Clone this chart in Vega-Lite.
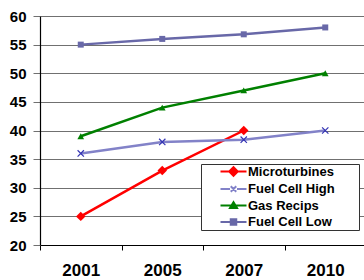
{
  "$schema": "https://vega.github.io/schema/vega-lite/v6.json",
  "autosize": {"type": "none"},
  "padding": {"left": 40, "top": 16, "right": 0, "bottom": 35},
  "width": 326,
  "height": 229,
  "background": "white",
  "config": {
    "view": {"stroke": null},
    "font": "Liberation Sans"
  },
  "data": {
    "values": [
      {"year": "2001", "series": "Microturbines", "value": 25},
      {"year": "2005", "series": "Microturbines", "value": 33},
      {"year": "2007", "series": "Microturbines", "value": 40},
      {"year": "2001", "series": "Fuel Cell High", "value": 36},
      {"year": "2005", "series": "Fuel Cell High", "value": 38},
      {"year": "2007", "series": "Fuel Cell High", "value": 38.4},
      {"year": "2010", "series": "Fuel Cell High", "value": 40},
      {"year": "2001", "series": "Gas Recips", "value": 39},
      {"year": "2005", "series": "Gas Recips", "value": 44},
      {"year": "2007", "series": "Gas Recips", "value": 47},
      {"year": "2010", "series": "Gas Recips", "value": 50},
      {"year": "2001", "series": "Fuel Cell Low", "value": 55},
      {"year": "2005", "series": "Fuel Cell Low", "value": 56},
      {"year": "2007", "series": "Fuel Cell Low", "value": 56.8},
      {"year": "2010", "series": "Fuel Cell Low", "value": 58}
    ]
  },
  "encoding": {
    "x": {
      "field": "year",
      "type": "ordinal",
      "scale": {"type": "band", "paddingInner": 0, "paddingOuter": 0},
      "axis": {
        "title": null,
        "labelAngle": 0,
        "labelFont": "Liberation Sans",
        "labelFontSize": 17,
        "labelFontWeight": "bold",
        "labelColor": "black",
        "labelPadding": 12,
        "tickBand": "extent",
        "tickSize": 5,
        "tickColor": "black",
        "domainColor": "black",
        "domainWidth": 1
      }
    },
    "y": {
      "field": "value",
      "type": "quantitative",
      "scale": {"domain": [20, 60], "nice": false, "zero": false},
      "axis": {
        "title": null,
        "values": [20, 25, 30, 35, 40, 45, 50, 55, 60],
        "labelFont": "Liberation Sans",
        "labelFontSize": 15,
        "labelFontWeight": "bold",
        "labelColor": "black",
        "labelPadding": 7,
        "tickSize": 7,
        "tickColor": "#707070",
        "domainColor": "black",
        "domainWidth": 1.2,
        "gridColor": "#707070",
        "gridWidth": 1,
        "gridOpacity": 1
      }
    }
  },
  "layer": [
    {
      "mark": {"type": "line", "strokeWidth": 2.5},
      "encoding": {
        "color": {
          "field": "series",
          "type": "nominal",
          "scale": {
            "domain": ["Microturbines", "Fuel Cell High", "Gas Recips", "Fuel Cell Low"],
            "range": ["#FF0000", "#8282C8", "#008000", "#6868A8"]
          },
          "legend": {
            "title": null,
            "orient": "none",
            "legendX": 161,
            "legendY": 148,
            "padding": 1,
            "fillColor": "white",
            "strokeColor": "#333333",
            "labelFont": "Liberation Sans",
            "labelFontSize": 13,
            "labelFontWeight": "bold",
            "labelColor": "black",
            "labelOffset": 8,
            "symbolOffset": 25,
            "rowPadding": 1.5,
            "symbolSize": 100,
            "symbolStrokeWidth": 2,
            "encode": {
              "symbols": {
                "update": {
                  "shape": {"signal": "datum.value === 'Microturbines' ? 'M-2.6,0H2.6M-0.85,0L0,-0.85L0.85,0L0,0.85ZM24,0' : datum.value === 'Fuel Cell High' ? 'M-2.6,0H-0.7M0.7,0H2.6M-0.55,-0.55L0.55,0.55M-0.55,0.55L0.55,-0.55M24,0' : datum.value === 'Gas Recips' ? 'M-2.6,0H2.6M-0.7,0.5L0,-0.65L0.7,0.5ZM24,0' : 'M-2.6,0H2.6M-0.55,-0.55H0.55V0.55H-0.55ZM24,0'"},
                  "size": {"value": 100},
                  "stroke": {"scale": "color", "field": "value"},
                  "fill": {"scale": "color", "field": "value"},
                  "strokeWidth": {"value": 2},
                  "opacity": {"value": 1}
                }
              }
            }
          }
        }
      }
    },
    {
      "transform": [{"filter": "datum.series === 'Microturbines'"}],
      "mark": {"type": "point", "shape": "diamond", "size": 90, "filled": true, "opacity": 1, "color": "#FF0000"}
    },
    {
      "transform": [{"filter": "datum.series === 'Fuel Cell High'"}],
      "mark": {"type": "point", "shape": "M-1,-1L1,1M-1,1L1,-1", "size": 40, "filled": false, "opacity": 1, "stroke": "#3434B4", "strokeWidth": 1.2}
    },
    {
      "transform": [{"filter": "datum.series === 'Gas Recips'"}],
      "mark": {"type": "point", "shape": "triangle-up", "size": 45, "filled": true, "opacity": 1, "color": "#008000"}
    },
    {
      "transform": [{"filter": "datum.series === 'Fuel Cell Low'"}],
      "mark": {"type": "point", "shape": "square", "size": 36, "filled": true, "opacity": 1, "color": "#6868A8"}
    }
  ]
}
